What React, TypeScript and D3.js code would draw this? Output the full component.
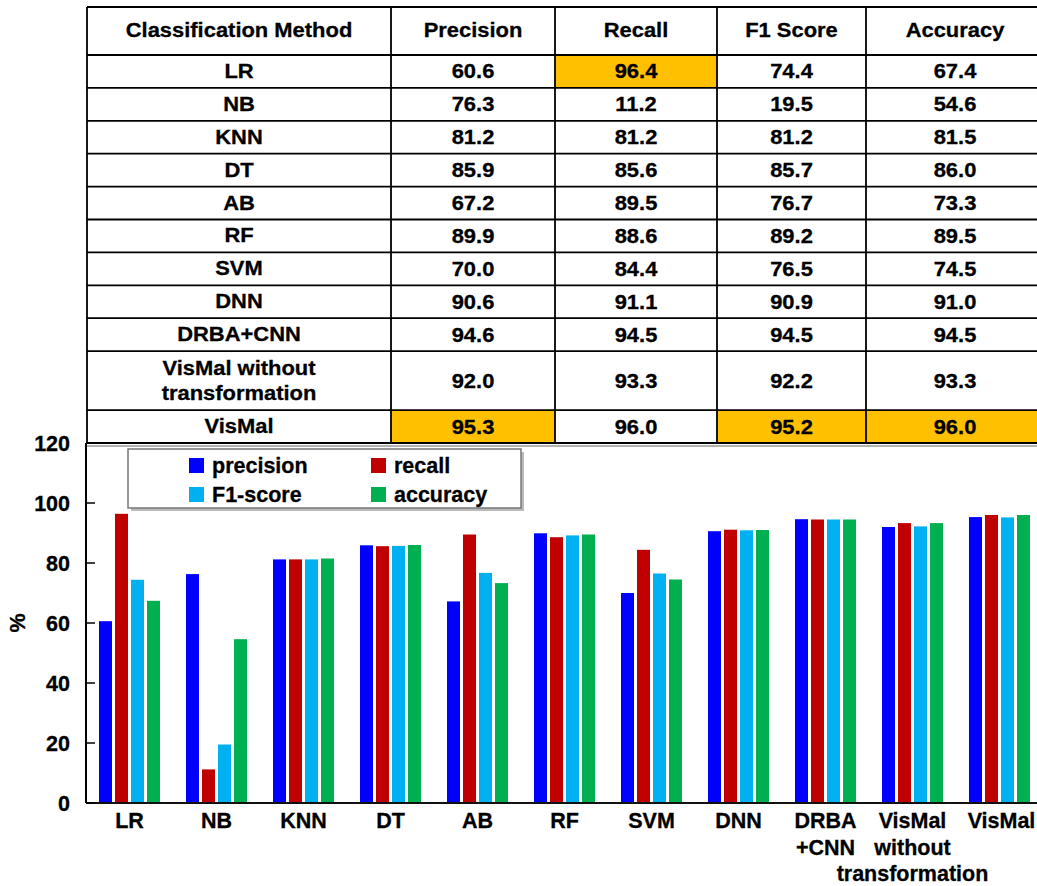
import React from "react";
import * as d3 from "d3";

const methods = ["LR", "NB", "KNN", "DT", "AB", "RF", "SVM", "DNN", "DRBA+CNN", "VisMal without transformation", "VisMal"];
const tableMethodLines = [["LR"], ["NB"], ["KNN"], ["DT"], ["AB"], ["RF"], ["SVM"], ["DNN"], ["DRBA+CNN"], ["VisMal without", "transformation"], ["VisMal"]];
const axisMethodLines = [["LR"], ["NB"], ["KNN"], ["DT"], ["AB"], ["RF"], ["SVM"], ["DNN"], ["DRBA", "+CNN"], ["VisMal", "without", "transformation"], ["VisMal"]];
const tableHeaders = ["Classification Method", "Precision", "Recall", "F1 Score", "Accuracy"];

const precision = [60.6, 76.3, 81.2, 85.9, 67.2, 89.9, 70.0, 90.6, 94.6, 92.0, 95.3];
const recall = [96.4, 11.2, 81.2, 85.6, 89.5, 88.6, 84.4, 91.1, 94.5, 93.3, 96.0];
const f1 = [74.4, 19.5, 81.2, 85.7, 76.7, 89.2, 76.5, 90.9, 94.5, 92.2, 95.2];
const accuracy = [67.4, 54.6, 81.5, 86.0, 73.3, 89.5, 74.5, 91.0, 94.5, 93.3, 96.0];

const seriesNames = ["precision", "recall", "F1-score", "accuracy"];
const seriesColors = ["#0000FF", "#C00000", "#00B0F0", "#00B050"];
const yTicks = [0, 20, 40, 60, 80, 100, 120];

// highlighted table cells: [rowIndex, colIndex(1..4)]
const highlights = [[0, 2], [10, 1], [10, 3], [10, 4]];

const W = 1037;
const H = 886;
const FONT = "'Liberation Sans', Arial, sans-serif";

export default function App() {
  const seriesData = [precision, recall, f1, accuracy];

  // ---- table layout ----
  const colEdges = [87, 391, 555, 717, 866, 1044];
  const headerTop = 7;
  const headerBottom = 55;
  const rowH = 32.9;
  const rowHeights = tableMethodLines.map((l) => (l.length > 1 ? 59 : rowH));
  const rowTops: number[] = [];
  let acc = headerBottom;
  rowHeights.forEach((h) => {
    rowTops.push(acc);
    acc += h;
  });
  const tableBottom = acc;

  const tFont = 20.5;
  const tScale = 1.07;
  const tText = (x: number, y: number, s: string, key: string) => (
    <text
      key={key}
      transform={`translate(${x},${y}) scale(${tScale},1)`}
      textAnchor="middle"
      fontFamily={FONT}
      fontWeight="bold"
      fontSize={tFont}
      fill="#000"
      stroke="#000"
      strokeWidth={0.3}
    >
      {s}
    </text>
  );

  const cells: React.ReactNode[] = [];
  highlights.forEach(([r, c], i) => {
    cells.push(
      <rect key={"hl" + i} x={colEdges[c]} y={rowTops[r]} width={colEdges[c + 1] - colEdges[c]} height={rowHeights[r]} fill="#FFC000" />
    );
  });
  tableHeaders.forEach((h, c) => {
    const cx = (colEdges[c] + colEdges[c + 1]) / 2;
    cells.push(tText(cx, (headerTop + headerBottom) / 2 + 6, h, "h" + c));
  });
  tableMethodLines.forEach((lines, r) => {
    const cy = rowTops[r] + rowHeights[r] / 2;
    const cx0 = (colEdges[0] + colEdges[1]) / 2;
    lines.forEach((ln, li) => {
      const off = (li - (lines.length - 1) / 2) * 25;
      cells.push(tText(cx0, cy + off + 6.5, ln, `m${r}-${li}`));
    });
    seriesData.forEach((arr, c) => {
      const cx = (colEdges[c + 1] + colEdges[c + 2]) / 2;
      cells.push(tText(cx, cy + 7, arr[r].toFixed(1), `v${r}-${c}`));
    });
  });

  const gridLines: React.ReactNode[] = [];
  const hLines = [headerTop, headerBottom, ...rowTops.slice(1), tableBottom];
  hLines.forEach((y, i) =>
    gridLines.push(<line key={"hl-" + i} x1={colEdges[0]} x2={colEdges[colEdges.length - 1]} y1={y} y2={y} stroke="#000" strokeWidth={1.8} />)
  );
  colEdges.forEach((x, i) =>
    gridLines.push(<line key={"vl-" + i} x1={x} x2={x} y1={headerTop} y2={tableBottom} stroke="#000" strokeWidth={1.8} />)
  );

  // ---- chart ----
  const axisX = 86;
  const y = d3.scaleLinear().domain([0, 120]).range([803, 443]);
  const x0 = d3.scaleBand<string>().domain(methods).range([axisX, 1043]).paddingInner(0).paddingOuter(0);
  const groupW = 61;
  const x1 = d3.scaleBand<string>().domain(seriesNames).range([0, groupW]).paddingInner(3 / 16).paddingOuter(0);

  const bars: React.ReactNode[] = [];
  methods.forEach((m, i) => {
    const gx = (x0(m) as number) + x0.bandwidth() / 2 - groupW / 2;
    seriesNames.forEach((s, si) => {
      const v = seriesData[si][i];
      bars.push(
        <rect
          key={`b${i}-${si}`}
          x={gx + (x1(s) as number)}
          y={y(v)}
          width={x1.bandwidth()}
          height={y(0) - y(v)}
          fill={seriesColors[si]}
        />
      );
    });
  });

  const cFont = 21.5;
  const boldStroke = { stroke: "#000", strokeWidth: 0.3 };

  return (
    <svg width={W} height={H} style={{ position: "absolute", left: 0, top: 0, background: "#fff" }}>
      <rect x={0} y={0} width={W} height={H} fill="#fff" />
      {/* table */}
      {cells}
      {gridLines}

      {/* plot top frame */}
      <line x1={axisX} x2={W} y1={446} y2={446} stroke="#999" strokeWidth={1.5} />

      {/* bars */}
      {bars}

      {/* axes */}
      <line x1={axisX} x2={axisX} y1={443} y2={y(0)} stroke="#000" strokeWidth={2} />
      <line x1={axisX} x2={W} y1={y(0)} y2={y(0)} stroke="#111" strokeWidth={2} />
      {yTicks.map((t) => (
        <g key={"yt" + t}>
          <line x1={axisX} x2={axisX + 9} y1={y(t)} y2={y(t)} stroke="#000" strokeWidth={1.5} />
          <text x={70} y={y(t) + 7.5} textAnchor="end" fontFamily={FONT} fontWeight="bold" fontSize={cFont} fill="#000" {...boldStroke}>
            {t}
          </text>
        </g>
      ))}
      <text
        transform={`translate(25,${y(60)}) rotate(-90)`}
        textAnchor="middle"
        fontFamily={FONT}
        fontWeight="bold"
        fontSize={cFont}
        fill="#000"
        {...boldStroke}
      >
        %
      </text>

      {/* x labels */}
      {methods.map((m, i) => {
        const cx = (x0(m) as number) + x0.bandwidth() / 2;
        return (
          <text key={"xl" + i} textAnchor="middle" fontFamily={FONT} fontWeight="bold" fontSize={cFont} fill="#000" {...boldStroke}>
            {axisMethodLines[i].map((ln, li) => (
              <tspan key={li} x={cx + (i === 10 ? 2 : 0)} y={828 + li * 26.5}>
                {ln}
              </tspan>
            ))}
          </text>
        );
      })}

      {/* legend */}
      <rect x={131} y={452} width={393} height={59} fill="#bbb" />
      <rect x={128} y={449} width={393} height={59} fill="#fff" stroke="#777" strokeWidth={1.5} />
      {seriesNames.map((s, si) => {
        const col = si % 2;
        const row = Math.floor(si / 2);
        const sx = col === 0 ? 189 : 371;
        const sy = 458 + row * 29;
        return (
          <g key={"lg" + si}>
            <rect x={sx} y={sy} width={15} height={15} fill={seriesColors[si]} />
            <text x={sx + 23} y={sy + 15} fontFamily={FONT} fontWeight="bold" fontSize={cFont} fill="#000" {...boldStroke}>
              {s}
            </text>
          </g>
        );
      })}
    </svg>
  );
}
